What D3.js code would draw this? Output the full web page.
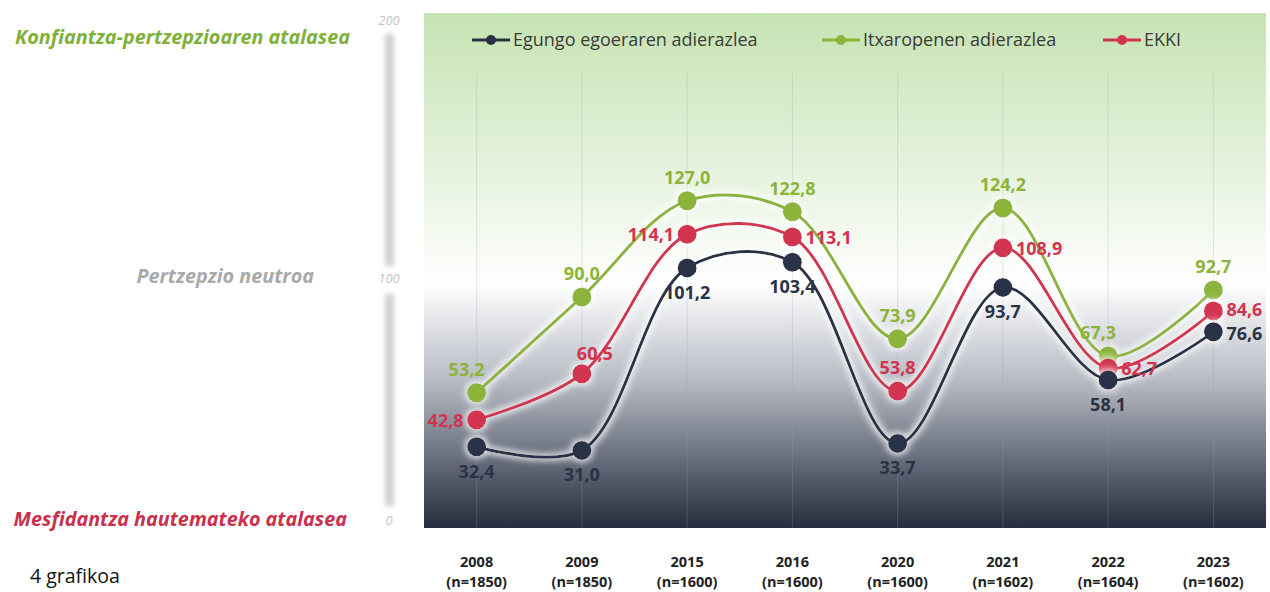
<!DOCTYPE html>
<html>
<head>
<meta charset="utf-8">
<script src="https://cdn.jsdelivr.net/npm/d3@7"></script>
<style>
  html, body { margin: 0; padding: 0; background: #fff; }
  svg { display: block; }
</style>
</head>
<body>
<svg id="chart" width="1270" height="592"></svg>
<script>
// ---- data ----
const years = ["2008", "2009", "2015", "2016", "2020", "2021", "2022", "2023"];
const sampleSizes = ["(n=1850)", "(n=1850)", "(n=1600)", "(n=1600)", "(n=1600)", "(n=1602)", "(n=1604)", "(n=1602)"];
const seriesNames = ["Egungo egoeraren adierazlea", "Itxaropenen adierazlea", "EKKI"];
const currentValues = [32.4, 31.0, 101.2, 103.4, 33.7, 93.7, 58.1, 76.6];
const expectationValues = [53.2, 90.0, 127.0, 122.8, 73.9, 124.2, 67.3, 92.7];
const ekkiValues = [42.8, 60.5, 114.1, 113.1, 53.8, 108.9, 62.7, 84.6];
const yTicks = [0, 100, 200];
const zoneLabels = ["Konfiantza-pertzepzioaren atalasea", "Pertzepzio neutroa", "Mesfidantza hautemateko atalasea"];
const chartNumber = "4 grafikoa";

// ---- label placement (style) ----
const currentPlace = ["below", "below", "below", "below", "below", "below", "below", "rightDown"];
const expectationPlace = ["aboveL", "above", "above", "above", "above", "above", "aboveL", "above"];
const ekkiPlace = ["left", "aboveR", "left", "right", "above", "right", "right", "rightUp"];

const colors = { navy: "#2b3246", green: "#8cb43a", red: "#d2344f" };

const svg = d3.select("#chart");
const plot = { left: 424, right: 1266, top: 13, bottom: 528 };

const x = d3.scaleBand().domain(years).range([plot.left, plot.right]);
const y = d3.scaleLinear().domain([0, 200]).range([531, 11]);
const cx = d => x(d) + x.bandwidth() / 2;

const defs = svg.append("defs");
const bg = defs.append("linearGradient").attr("id", "bg").attr("x1", 0).attr("y1", 0).attr("x2", 0).attr("y2", 1);
[[0, "#c6e3b3"], [0.25, "#dff0d6"], [0.47, "#f8fbf6"], [0.525, "#ffffff"], [0.6, "#e2e4e8"], [0.72, "#b4b8c1"], [0.85, "#6f7583"], [1, "#262d3e"]]
  .forEach(([o, c]) => bg.append("stop").attr("offset", o).attr("stop-color", c));

const glow = defs.append("filter").attr("id", "glow").attr("x", "-20%").attr("y", "-20%").attr("width", "140%").attr("height", "140%");
glow.append("feMorphology").attr("in", "SourceAlpha").attr("operator", "dilate").attr("radius", 2).attr("result", "d");
glow.append("feGaussianBlur").attr("in", "d").attr("stdDeviation", 3).attr("result", "b");
glow.append("feFlood").attr("flood-color", "#ffffff").attr("flood-opacity", 0.8);
glow.append("feComposite").attr("in2", "b").attr("operator", "in").attr("result", "g");
const m = glow.append("feMerge");
m.append("feMergeNode").attr("in", "g");
m.append("feMergeNode").attr("in", "SourceGraphic");

const blur = defs.append("filter").attr("id", "barblur").attr("x", "-200%").attr("width", "500%");
blur.append("feGaussianBlur").attr("stdDeviation", 2.5);

// background
svg.append("rect").attr("x", plot.left).attr("y", plot.top)
  .attr("width", plot.right - plot.left).attr("height", plot.bottom - plot.top)
  .attr("fill", "url(#bg)");

// left axis bar
svg.append("rect").attr("x", 385).attr("y", 34).attr("width", 9).attr("height", 232)
  .attr("fill", "#cfcfcf").attr("filter", "url(#barblur)");
svg.append("rect").attr("x", 385).attr("y", 294).attr("width", 9).attr("height", 212)
  .attr("fill", "#cfcfcf").attr("filter", "url(#barblur)");

// y tick labels
svg.append("g").selectAll("text").data(yTicks).join("text")
  .attr("x", 389).attr("y", d => y(d) + (d === 200 ? 14 : d === 0 ? -6 : 12))
  .attr("text-anchor", "middle")
  .attr("font-family", "'Open Sans', sans-serif").attr("font-style", "italic")
  .attr("font-size", 13).attr("fill", "#c4c4c4")
  .text(d => d);

// zone labels
const zoneColors = ["#7fb03a", "#a9a9a9", "#c9304d"];
const zoneY = [44, 283, 526];
const zoneX = [350, 314, 347];
svg.append("g").selectAll("text").data(zoneLabels).join("text")
  .attr("x", (d, i) => zoneX[i]).attr("y", (d, i) => zoneY[i])
  .attr("text-anchor", "end")
  .attr("font-family", "'Open Sans', sans-serif").attr("font-style", "italic").attr("font-weight", 700)
  .attr("font-size", 19.8).attr("fill", (d, i) => zoneColors[i])
  .text(d => d);

// vertical drop lines
svg.append("g").selectAll("line").data(years).join("line")
  .attr("x1", d => cx(d)).attr("x2", d => cx(d))
  .attr("y1", plot.top + 60).attr("y2", plot.bottom)
  .attr("stroke", "#9aa0aa").attr("stroke-opacity", 0.25).attr("stroke-width", 1);

// x axis labels
const xl = svg.append("g").selectAll("g").data(years).join("g");
xl.append("text").attr("x", d => cx(d)).attr("y", 567).attr("text-anchor", "middle")
  .attr("font-family", "'Open Sans', sans-serif").attr("font-weight", 700).attr("font-size", 14.5)
  .attr("fill", "#222").text(d => d);
xl.append("text").attr("x", d => cx(d)).attr("y", 587).attr("text-anchor", "middle")
  .attr("font-family", "'Open Sans', sans-serif").attr("font-weight", 700).attr("font-size", 14.5)
  .attr("fill", "#222").text((d, i) => sampleSizes[i]);

svg.append("text").attr("x", 30).attr("y", 583)
  .attr("font-family", "'Open Sans', sans-serif").attr("font-size", 19.5).attr("fill", "#111")
  .text(chartNumber);

// series
const series = [
  { name: seriesNames[1], values: expectationValues, color: colors.green, place: expectationPlace },
  { name: seriesNames[2], values: ekkiValues, color: colors.red, place: ekkiPlace },
  { name: seriesNames[0], values: currentValues, color: colors.navy, place: currentPlace }
];

const line = d3.line().x((d, i) => cx(years[i])).y(d => y(d)).curve(d3.curveCatmullRom.alpha(0.5));

const sg = svg.append("g").selectAll("g").data(series).join("g").attr("filter", "url(#glow)");
sg.append("path").attr("d", s => line(s.values)).attr("fill", "none")
  .attr("stroke", s => s.color).attr("stroke-width", 3);
sg.selectAll("circle").data(s => s.values.map((v, i) => ({ v, i, s }))).join("circle")
  .attr("cx", d => cx(years[d.i])).attr("cy", d => y(d.v)).attr("r", 9.5)
  .attr("fill", d => d.s.color);

// value labels
const fmt = v => v.toFixed(1).replace(".", ",");
const off = {
  below: [0, 31, "middle"], above: [0, -17, "middle"], aboveL: [-10, -17, "middle"],
  aboveR: [13, -14, "middle"], left: [-13, 7, "end"], right: [13, 7, "start"],
  rightUp: [13, 5, "start"], rightDown: [13, 8, "start"]
};
svg.append("g").selectAll("g").data(series).join("g")
  .selectAll("text").data(s => s.values.map((v, i) => ({ v, i, s }))).join("text")
  .attr("x", d => cx(years[d.i]) + off[d.s.place[d.i]][0])
  .attr("y", d => y(d.v) + off[d.s.place[d.i]][1])
  .attr("text-anchor", d => off[d.s.place[d.i]][2])
  .attr("font-family", "'Open Sans', sans-serif").attr("font-weight", 700).attr("font-size", 18)
  .attr("fill", d => d.s.color)
  .text(d => fmt(d.v));

// legend
const legendX = [472, 822, 1103];
const legendOrder = [
  { name: seriesNames[0], color: colors.navy },
  { name: seriesNames[1], color: colors.green },
  { name: seriesNames[2], color: colors.red }
];
const lg = svg.append("g").selectAll("g").data(legendOrder).join("g")
  .attr("transform", (d, i) => `translate(${legendX[i]},40)`);
lg.append("line").attr("x1", 0).attr("x2", 38).attr("stroke", d => d.color).attr("stroke-width", 3);
lg.append("circle").attr("cx", 19).attr("r", 5).attr("fill", d => d.color);
lg.append("text").attr("x", 41).attr("y", 6)
  .attr("font-family", "'Open Sans', sans-serif").attr("font-size", 18).attr("fill", "#3a3a3a")
  .text(d => d.name);
</script>
</body>
</html>
